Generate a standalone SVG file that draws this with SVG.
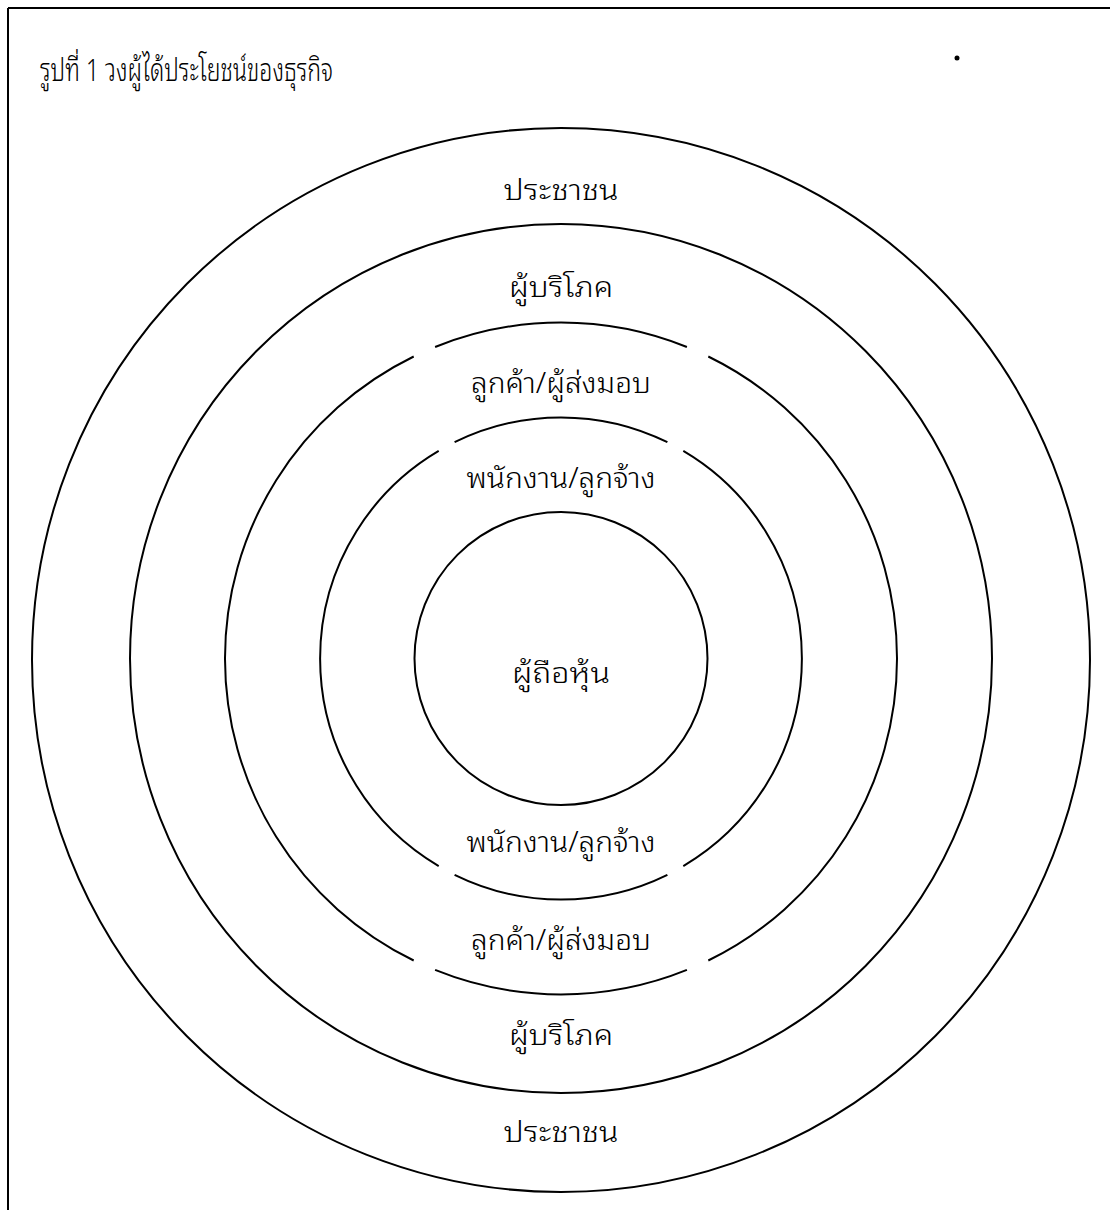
<svg xmlns="http://www.w3.org/2000/svg" width="1110" height="1210" viewBox="0 0 1110 1210">
<style>
.ring{fill:none;stroke:#000;stroke-width:2}
.lbl{font-family:"Noto Sans Thai Looped","Noto Sans Thai","Noto Sans","Liberation Sans",sans-serif;font-size:29px;font-weight:300;fill:#000;text-anchor:middle}
.title{font-family:"Noto Sans Thai Looped","Noto Sans Thai","Noto Sans","Liberation Sans",sans-serif;font-size:31px;font-weight:300;fill:#000}
</style>
<rect width="1110" height="1210" fill="#fff"/>
<g id="frame">
<line x1="8" y1="8" x2="1110" y2="8" stroke="#000" stroke-width="2"/>
<line x1="8" y1="8" x2="8" y2="1210" stroke="#000" stroke-width="2"/>
<circle cx="957" cy="58" r="2.5" fill="#000"/>
</g>
<text class="title" x="40" y="81" textLength="293" lengthAdjust="spacingAndGlyphs">รูปที่ 1 วงผู้ได้ประโยชน์ของธุรกิจ</text>
<g id="ring-public">
<ellipse class="ring" cx="561" cy="660" rx="529" ry="532"/>
<text class="lbl" x="561" y="200" textLength="115" lengthAdjust="spacingAndGlyphs">ประชาชน</text>
<text class="lbl" x="561" y="1142" textLength="115" lengthAdjust="spacingAndGlyphs">ประชาชน</text>
</g>
<g id="ring-consumers">
<ellipse class="ring" cx="561" cy="658.5" rx="431" ry="434.5"/>
<text class="lbl" x="561" y="297" textLength="104" lengthAdjust="spacingAndGlyphs">ผู้บริโภค</text>
<text class="lbl" x="561" y="1045" textLength="104" lengthAdjust="spacingAndGlyphs">ผู้บริโภค</text>
</g>
<g id="ring-customers">
<path class="ring" d="M435.1 347 A336 336 0 0 1 686.9 347 M708.3 356.5 A336 336 0 0 1 708.3 960.5 M686.9 969.9 A336 336 0 0 1 435.1 969.9 M413.7 960.5 A336 336 0 0 1 413.7 356.5"/>
<text class="lbl" x="561" y="393" textLength="180" lengthAdjust="spacingAndGlyphs">ลูกค้า/ผู้ส่งมอบ</text>
<text class="lbl" x="561" y="950" textLength="180" lengthAdjust="spacingAndGlyphs">ลูกค้า/ผู้ส่งมอบ</text>
</g>
<g id="ring-employees">
<path class="ring" d="M454.6 442.2 A241 241 0 0 1 667.4 442.2 M683.3 450.9 A241 241 0 0 1 683.3 866.1 M667.4 874.8 A241 241 0 0 1 454.6 874.8 M438.7 866.1 A241 241 0 0 1 438.7 450.9"/>
<text class="lbl" x="561" y="488" textLength="189" lengthAdjust="spacingAndGlyphs">พนักงาน/ลูกจ้าง</text>
<text class="lbl" x="561" y="852" textLength="189" lengthAdjust="spacingAndGlyphs">พนักงาน/ลูกจ้าง</text>
</g>
<g id="ring-shareholders">
<circle class="ring" cx="561" cy="658.5" r="146.5"/>
<text class="lbl" x="561" y="683" textLength="98" lengthAdjust="spacingAndGlyphs">ผู้ถือหุ้น</text>
</g>
<g id="connectors"/>
</svg>
